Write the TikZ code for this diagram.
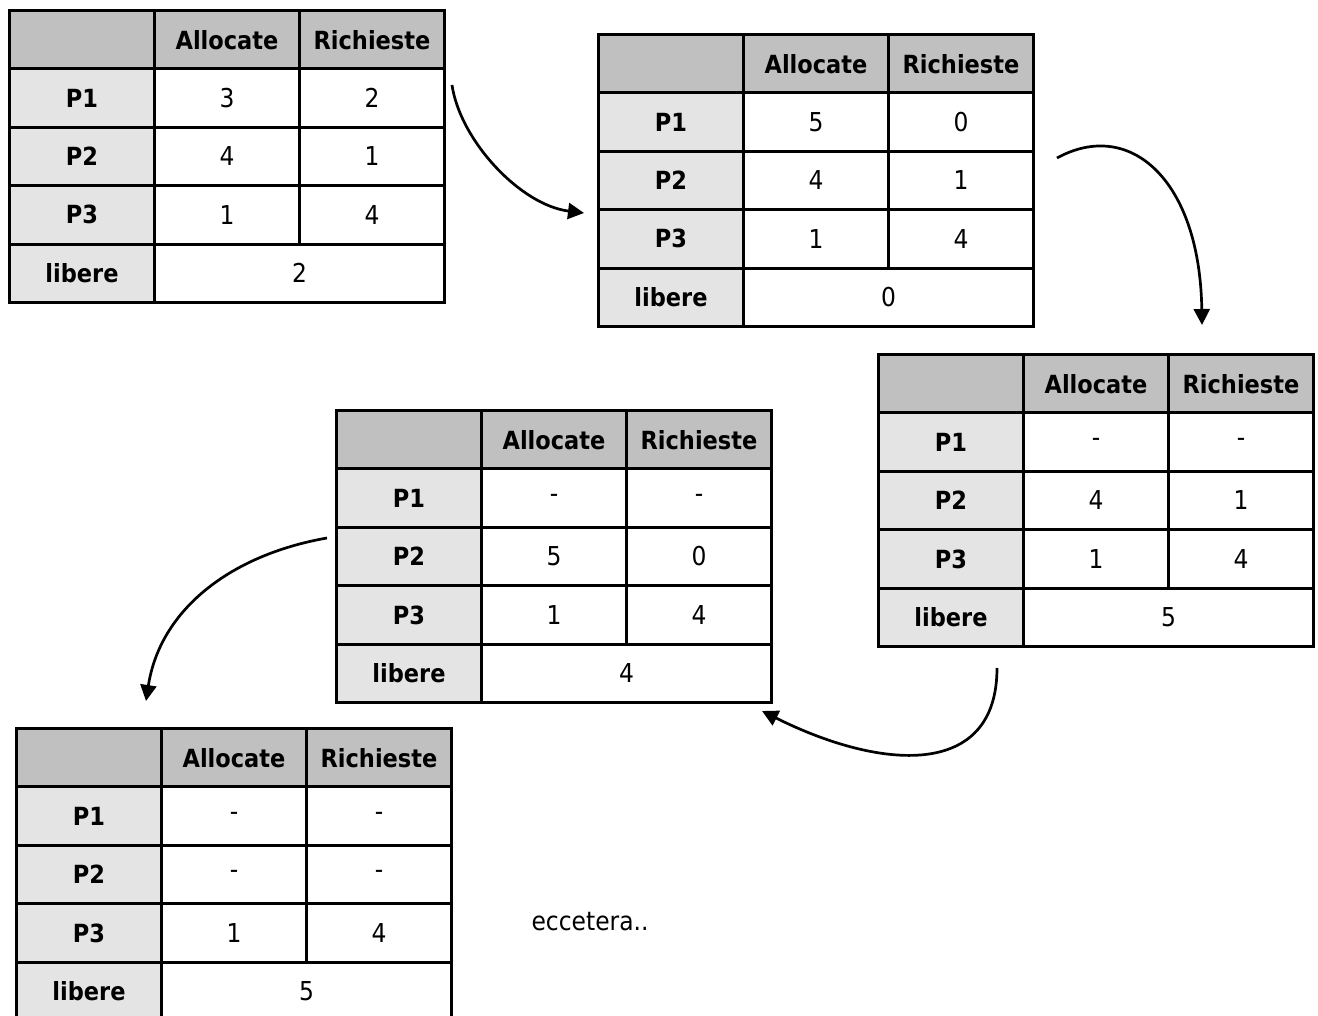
\documentclass[tikz,border=0pt]{standalone}
\usepackage{fontspec}
\setmainfont{DejaVu Sans Condensed}
\usetikzlibrary{arrows.meta}
\definecolor{hdrgray}{HTML}{BFC0BF}
\definecolor{rowgray}{HTML}{E3E4E3}
\tikzset{
  cell/.style={draw=black, line width=3pt, minimum width=145pt, minimum height=58.4pt,
    anchor=north west, inner sep=0pt, font=\fontsize{26}{30}\selectfont},
  hdrcell/.style={cell, fill=hdrgray, font=\bfseries\fontsize{25}{29}\selectfont},
  labcell/.style={cell, fill=rowgray, font=\bfseries\fontsize{25}{29}\selectfont},
  valcell/.style={cell, fill=white},
  freecell/.style={valcell, minimum width=290pt},
  flow/.style={line width=2.7pt, -{Triangle[length=16pt,width=16pt]}},
  note/.style={font=\fontsize{26}{30}\selectfont, inner sep=0pt},
}
\newcommand\restable[9]{%
  \begin{scope}[shift={(#2)}]
    \node[hdrcell] (#1-h0) at (0,0) {};
    \node[hdrcell] (#1-h1) at (145,0) {Allocate};
    \node[hdrcell] (#1-h2) at (290,0) {Richieste};
    \node[labcell] (#1-l1) at (0,58.4) {P1};
    \node[valcell] (#1-a1) at (145,58.4) {#3};
    \node[valcell] (#1-r1) at (290,58.4) {#4};
    \node[labcell] (#1-l2) at (0,116.8) {P2};
    \node[valcell] (#1-a2) at (145,116.8) {#5};
    \node[valcell] (#1-r2) at (290,116.8) {#6};
    \node[labcell] (#1-l3) at (0,175.2) {P3};
    \node[valcell] (#1-a3) at (145,175.2) {#7};
    \node[valcell] (#1-r3) at (290,175.2) {#8};
    \node[labcell] (#1-l4) at (0,233.6) {libere};
    \node[freecell] (#1-f) at (145,233.6) {#9};
  \end{scope}}
\begin{document}
\begin{tikzpicture}[x=1pt,y=-1pt]
  \useasboundingbox (0,0) rectangle (1318,1016);
  \restable{tA}{8,9}{3}{2}{4}{1}{1}{4}{2}
  \restable{tB}{597,33}{5}{0}{4}{1}{1}{4}{0}
  \restable{tC}{877,353}{-}{-}{4}{1}{1}{4}{5}
  \restable{tD}{335,409}{-}{-}{5}{0}{1}{4}{4}
  \restable{tE}{15,727}{-}{-}{-}{-}{1}{4}{5}
  \node[note] (etc) at (590,922) {eccetera..};
  \coordinate (s1) at (452,85);  \coordinate (e1) at (584,213);
  \coordinate (s2) at (1057,158); \coordinate (e2) at (1202,325);
  \coordinate (s3) at (997,668); \coordinate (e3) at (762,711);
  \coordinate (s4) at (327,538); \coordinate (e4) at (146,701);
  \draw[flow] (s1) .. controls (460,140) and (520,205) .. (e1);
  \draw[flow] (s2) .. controls (1130,118) and (1200,180) .. (e2);
  \draw[flow] (s3) .. controls (997,780) and (880,770) .. (e3);
  \draw[flow] (s4) .. controls (230,555) and (160,610) .. (e4);
\end{tikzpicture}
\end{document}
